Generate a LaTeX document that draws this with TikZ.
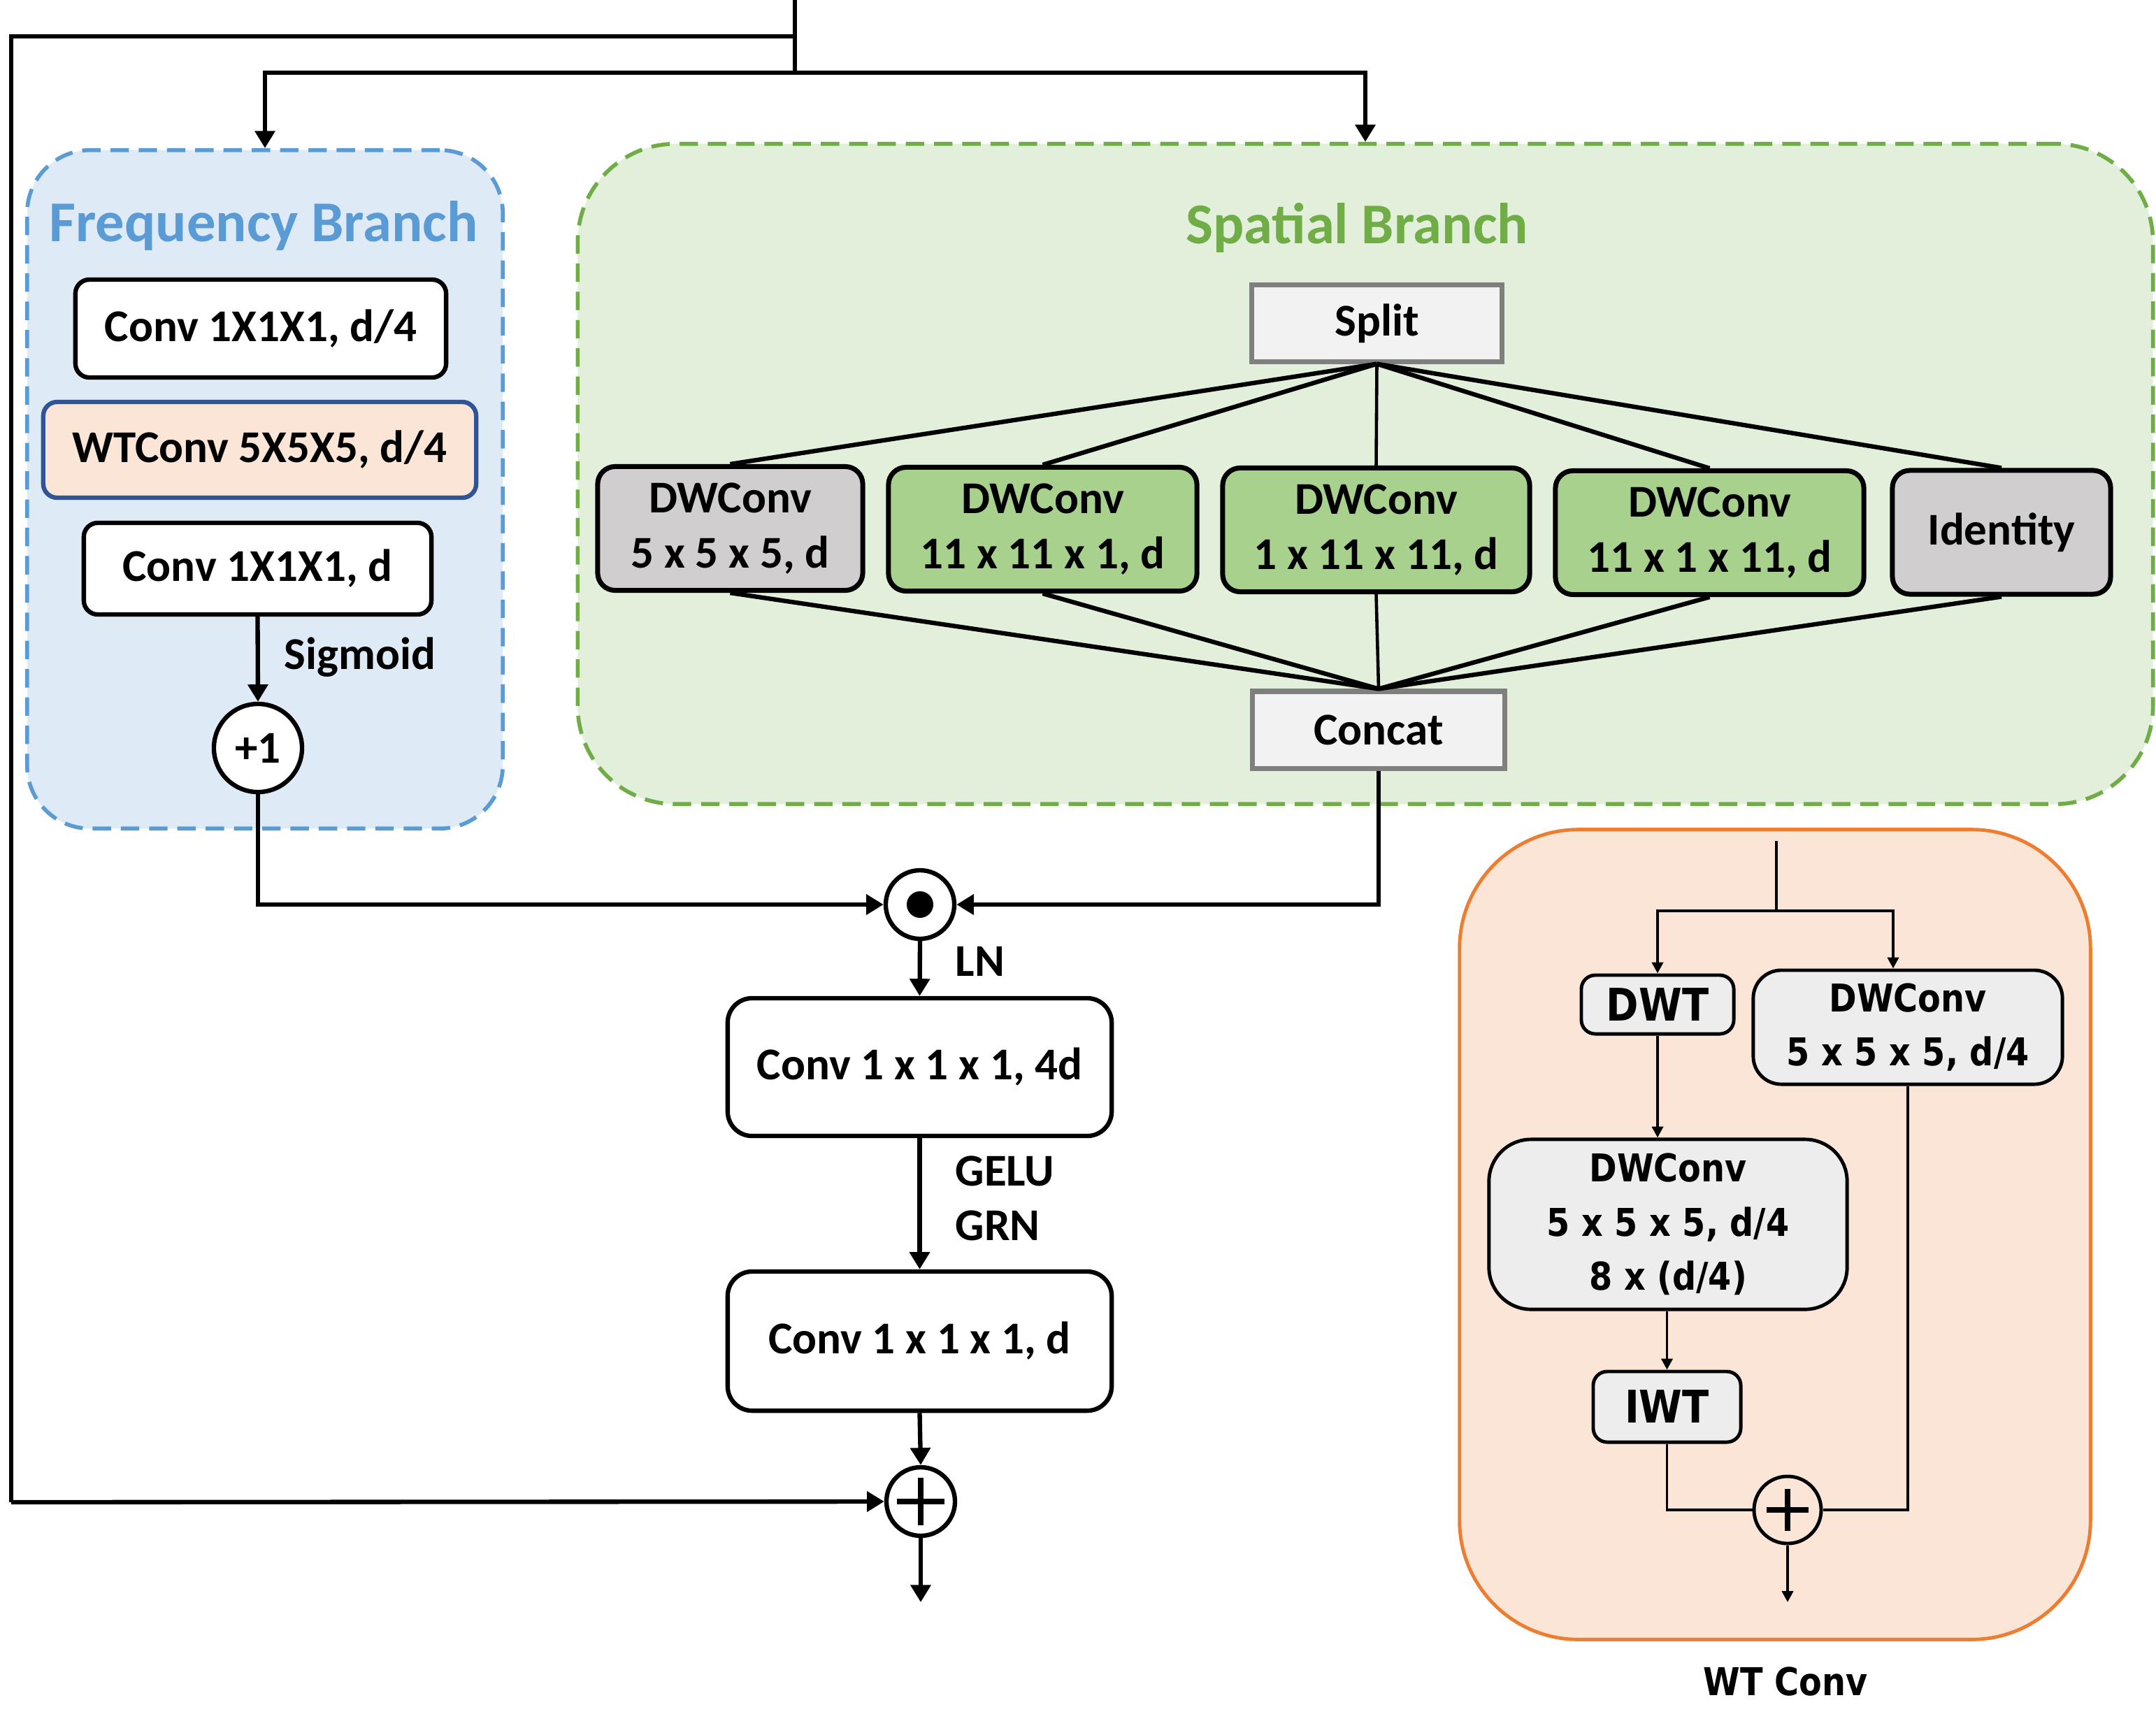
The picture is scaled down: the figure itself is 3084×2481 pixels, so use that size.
\documentclass[tikz,border=0pt]{standalone}
\usepackage{fontspec}
\setmainfont{Carlito}
\newfontfamily\vfont[FakeStretch=0.87]{DejaVu Sans}
\usetikzlibrary{arrows.meta,calc}
\definecolor{fbfill}{HTML}{DEEBF7}
\definecolor{fbline}{HTML}{5B9BD5}
\definecolor{sbfill}{HTML}{E2EFDA}
\definecolor{sbline}{HTML}{70AD47}
\definecolor{orfill}{HTML}{FBE5D6}
\definecolor{orline}{HTML}{ED7D31}
\definecolor{dblue}{HTML}{2F5597}
\definecolor{gbox}{HTML}{D0CECE}
\definecolor{grbox}{HTML}{A9D18E}
\definecolor{ltgray}{HTML}{F2F2F2}
\definecolor{mgray}{HTML}{7F7F7F}
\definecolor{wtgray}{HTML}{EDEDED}
\newcommand\mfont{\fontsize{18.5}{22.3}\selectfont\bfseries}
\newcommand\tfont{\fontsize{23.5}{28}\selectfont\bfseries}
\newcommand\wfont{\vfont\fontsize{15.6}{22}\selectfont\bfseries}
\newcommand\wbig{\vfont\fontsize{18.3}{22}\selectfont\bfseries}
\begin{document}
\begin{tikzpicture}[x=0.01cm,y=-0.01cm,
  every node/.style={inner sep=0pt, font=\mfont},
  arr/.style={line width=1.8pt, -{Triangle[length=7pt,width=8pt]}},
  ln/.style={line width=1.8pt},
  warr/.style={line width=1.1pt, -{Triangle[length=4.5pt,width=4.5pt]}},
  wln/.style={line width=1.1pt},
  group/.style={draw, line width=1.6pt, dash pattern=on 7.5pt off 4pt},
  fbox/.style={draw, line width=1.8pt, rounded corners=0.2cm, fill=white, align=center},
  mbox/.style={draw, line width=1.8pt, rounded corners=0.35cm, fill=white, align=center},
  sbox/.style={draw, line width=2pt, rounded corners=0.25cm, align=center, minimum height=1.77cm},
  gbx/.style={draw=mgray, line width=2pt, fill=ltgray},
  wbox/.style={draw, line width=1.4pt, fill=wtgray, align=center, font=\wfont},
  opcirc/.style={draw, circle, line width=1.8pt, fill=white},
  lbl/.style={anchor=west}
]
\useasboundingbox (0,0) rectangle (3084,2481);

% group frames
\node[group, draw=fbline, fill=fbfill, rounded corners=0.9cm, minimum width=6.80cm, minimum height=9.70cm] (freq) at (379,700) {};
\node[group, draw=sbline, fill=sbfill, rounded corners=1.4cm, minimum width=22.52cm, minimum height=9.44cm] (spat) at (1953,678) {};
\node[draw=orline, fill=orfill, line width=1.4pt, rounded corners=1.7cm, minimum width=9.02cm, minimum height=11.58cm] (wtc) at (2539,1766) {};

% titles
\node[text=fbline, font=\tfont] (ftitle) at (377,323) {Frequency Branch};
\node[text=sbline, font=\tfont] (stitle) at (1941,326) {Spatial Branch};

% frequency branch
\node[fbox, minimum width=5.30cm, minimum height=1.40cm] (c1) at (373,470) {Conv 1X1X1, d/4};
\node[fbox, draw=dblue, fill=orfill, minimum width=6.19cm, minimum height=1.37cm] (wt) at (371.5,643.5) {WTConv 5X5X5, d/4};
\node[fbox, minimum width=4.97cm, minimum height=1.31cm] (c2) at (368.5,813.5) {Conv 1X1X1, d};
\node[opcirc, minimum size=1.26cm] (p1) at (369,1070) {+1};

% spatial branch
\node[gbx, minimum width=3.57cm, minimum height=1.09cm] (split) at (1969.5,462.5) {Split};
\node[sbox, fill=gbox, minimum width=3.79cm] (b1) at (1044.5,756) {DWConv\\5 x 5 x 5, d};
\node[sbox, fill=grbox, minimum width=4.41cm] (b2) at (1491.5,757) {DWConv\\11 x 11 x 1, d};
\node[sbox, fill=grbox, minimum width=4.39cm] (b3) at (1968.5,758) {DWConv\\1 x 11 x 11, d};
\node[sbox, fill=grbox, minimum width=4.41cm] (b4) at (2445.5,762) {DWConv\\11 x 1 x 11, d};
\node[sbox, fill=gbox, minimum width=3.12cm] (b5) at (2863,761.5) {Identity};
\node[gbx, minimum width=3.60cm, minimum height=1.10cm] (concat) at (1972,1044) {Concat};

% main path
\node[opcirc, minimum size=0.98cm] (odot) at (1316,1294) {};
\fill (odot.center) circle (0.19cm);
\node[mbox, minimum width=5.49cm, minimum height=1.97cm] (conv4d) at (1315.5,1526.5) {Conv 1 x 1 x 1, 4d};
\node[mbox, minimum width=5.49cm, minimum height=1.99cm] (convd) at (1315.5,1918.5) {Conv 1 x 1 x 1, d};
\node[opcirc, minimum size=0.98cm] (plus) at (1317,2148) {};
\draw[line width=2.2pt] ($(plus.center)+(-34,0)$) -- ($(plus.center)+(34,0)$);
\draw[line width=2.2pt] ($(plus.center)+(0,-34)$) -- ($(plus.center)+(0,34)$);

% WT conv detail
\node[wbox, rounded corners=0.2cm, minimum width=2.18cm, minimum height=0.84cm, font=\wbig] (dwt) at (2371,1437) {DWT};
\node[wbox, rounded corners=0.4cm, minimum width=4.42cm, minimum height=1.63cm] (dwc1) at (2729,1469.5) {DWConv\\5 x 5 x 5, d/4};
\node[wbox, rounded corners=0.6cm, minimum width=5.12cm, minimum height=2.43cm] (dwc2) at (2386,1751.5) {DWConv\\5 x 5 x 5, d/4\\8 x (d/4)};
\node[wbox, rounded corners=0.2cm, minimum width=2.11cm, minimum height=1.01cm, font=\wbig] (iwt) at (2384.5,2012.5) {IWT};
\node[draw, circle, line width=1.4pt, fill=orfill, minimum size=0.96cm] (wplus) at (2557,2160) {};
\draw[line width=2.4pt] ($(wplus.center)+(-30,0)$) -- ($(wplus.center)+(30,0)$);
\draw[line width=2.4pt] ($(wplus.center)+(0,-30)$) -- ($(wplus.center)+(0,30)$);
\node[font=\wfont] (wtlabel) at (2554,2405) {WT Conv};

% coordinates
\coordinate (top) at (1137,0);
\coordinate (j1) at (1137,52);
\coordinate (j2) at (1137,104);
\coordinate (lc1) at (16,52);
\coordinate (lc2) at (16,2149);
\coordinate (out) at (1317,2292);
\coordinate (win) at (2541,1203);
\coordinate (wj) at (2541,1303);
\coordinate (wout) at (2557,2292);

% top connectors
\draw[ln] (top) -- (j2);
\draw[ln] (j1) -- (lc1) -- (lc2);
\draw[arr] (lc2) -- (plus.west);
\draw[arr] (j2) -| (freq.north);
\draw[arr] (j2) -| (spat.north);

% frequency branch connectors
\draw[arr] (c2.south) -- (p1.north);
\node[lbl] (sig) at (406,940) {Sigmoid};
\draw[arr] (p1.south) |- (odot.west);

% spatial fan
\foreach \b in {b1,b2,b4,b5}{
  \draw[ln] (split.south) -- (\b.north);
  \draw[ln] (\b.south) -- (concat.north);
}
\draw[line width=1.3pt] (split.south) -- (b3.north);
\draw[line width=1.3pt] (b3.south) -- (concat.north);
\draw[arr] (concat.south) |- (odot.east);

% main path connectors
\draw[arr] (odot.south) -- (conv4d.north);
\node[lbl] (lnl) at (1366,1375) {LN};
\draw[arr] (conv4d.south) -- (convd.north);
\node[lbl] (gelu) at (1366,1675) {GELU};
\node[lbl] (grn) at (1366,1753) {GRN};
\draw[arr] (convd.south) -- (plus.north);
\draw[arr] (plus.south) -- (out);

% WT connectors
\draw[wln] (win) -- (wj);
\draw[warr] (wj) -| (dwt.north);
\draw[warr] (wj) -| ([xshift=-0.21cm]dwc1.north);
\draw[warr] (dwt.south) -- (dwt.south |- dwc2.north);
\draw[warr] (dwc2.south -| iwt.north) -- (iwt.north);
\draw[wln] (iwt.south) |- (wplus.west);
\draw[wln] (dwc1.south) |- (wplus.east);
\draw[warr] (wplus.south) -- (wout);
\end{tikzpicture}
\end{document}
